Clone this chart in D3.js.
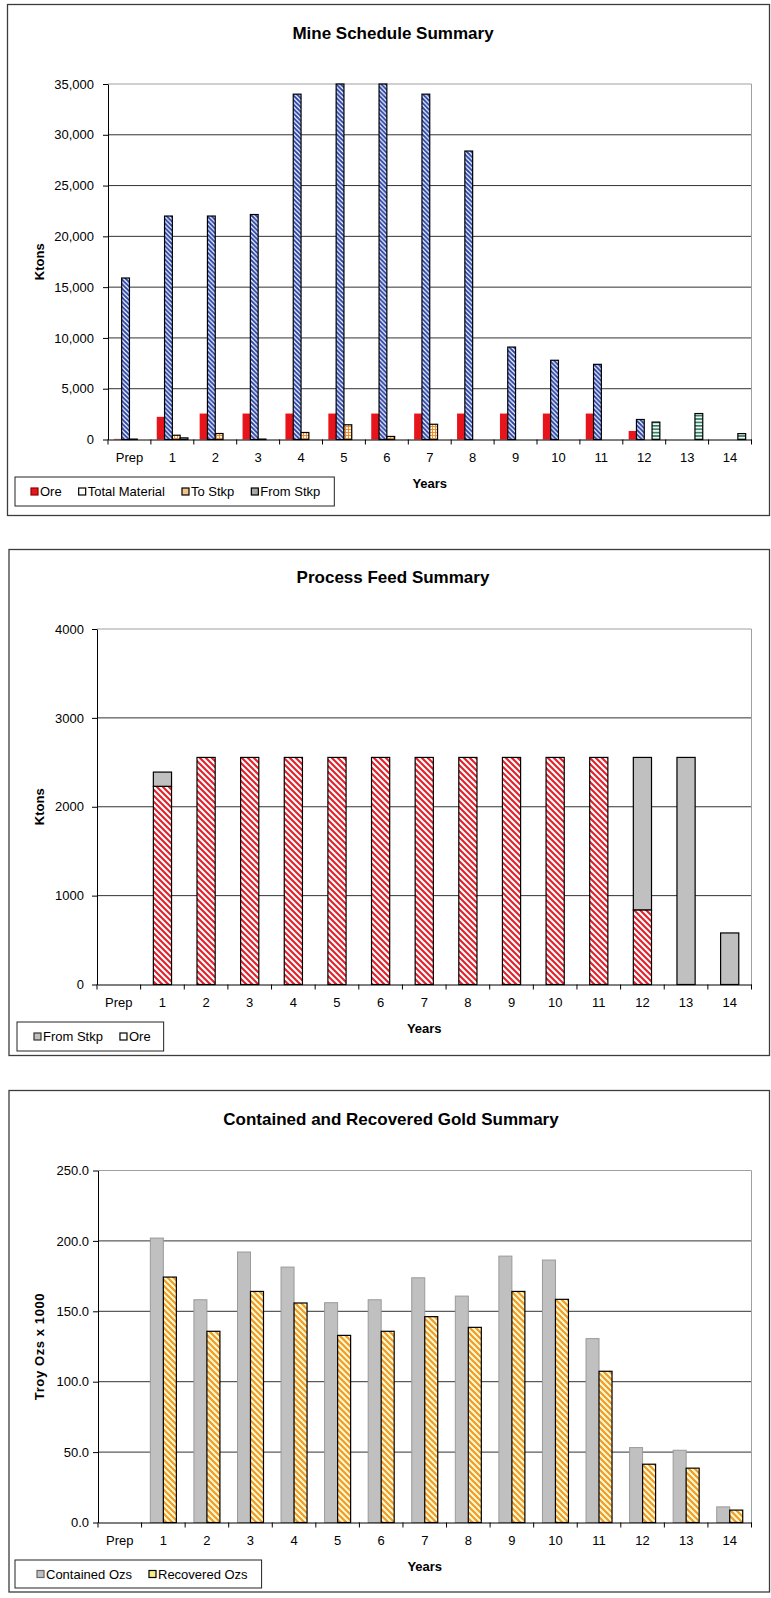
<!DOCTYPE html>
<html>
<head>
<meta charset="utf-8">
<script src="https://cdn.jsdelivr.net/npm/d3@7"></script>
<style>
  body { margin: 0; background: #fff; }
  svg { display: block; }
  text { font-family: "Liberation Sans", Arial, sans-serif; fill: #000; }
</style>
</head>
<body>
<svg id="chart" width="771" height="1598"></svg>
<script>
// ---- categories ----
const years = ["Prep", "1", "2", "3", "4", "5", "6", "7", "8", "9", "10", "11", "12", "13", "14"];

// ---- Mine Schedule Summary (Ktons) ----
const oreMined      = [60, 2230, 2555, 2555, 2555, 2555, 2555, 2555, 2555, 2555, 2555, 2555, 840, 0, 0];
const totalMaterial = [15900, 22000, 22000, 22150, 34000, 35000, 35000, 34000, 28400, 9100, 7800, 7400, 1970, 0, 0];
const toStockpile   = [40, 420, 590, 40, 690, 1450, 300, 1500, 0, 0, 0, 0, 0, 0, 0];
const fromStockpile = [0, 160, 0, 0, 0, 0, 0, 0, 0, 0, 0, 0, 1715, 2555, 580];
const mineTicks = [0, 5000, 10000, 15000, 20000, 25000, 30000, 35000];

// ---- Process Feed Summary (Ktons) ----
const feedOre       = [0, 2230, 2555, 2555, 2555, 2555, 2555, 2555, 2555, 2555, 2555, 2555, 840, 0, 0];
const feedFromStkp  = [0, 160, 0, 0, 0, 0, 0, 0, 0, 0, 0, 0, 1715, 2555, 580];
const feedTicks = [0, 1000, 2000, 3000, 4000];

// ---- Contained and Recovered Gold Summary (Troy Ozs x 1000) ----
const containedOzs = [0, 202.0, 158.2, 192.1, 181.4, 156.1, 158.2, 173.8, 160.8, 189.2, 186.4, 130.6, 53.2, 51.3, 11.1];
const recoveredOzs = [0, 174.3, 135.8, 164.1, 155.9, 132.9, 135.8, 146.2, 138.6, 164.1, 158.5, 107.4, 41.4, 38.6, 8.8];
const goldTicks = [0, 50, 100, 150, 200, 250];

const svg = d3.select("#chart");
const defs = svg.append("defs");

// hatch fills
function pattern(id, w, h, bg, draw) {
  const p = defs.append("pattern").attr("id", id)
    .attr("patternUnits", "userSpaceOnUse").attr("width", w).attr("height", h);
  p.append("rect").attr("width", w).attr("height", h).attr("fill", bg);
  draw(p);
}
function diagDown(p, s, color, sw) {
  p.append("path")
    .attr("d", `M-1,-1L${s + 1},${s + 1}M-1,${s - 1}L1,${s + 1}M${s - 1},-1L${s + 1},1`)
    .attr("stroke", color).attr("stroke-width", sw).attr("fill", "none");
}
pattern("blueHatch", 4.5, 4.5, "#ffffff", p => diagDown(p, 4.5, "#2a44a8", 2));
pattern("redHatch", 6, 6, "#ffffff", p => diagDown(p, 6, "#e4202a", 2.1));
pattern("goldHatch", 6, 6, "#fffbd0", p => diagDown(p, 6, "#f09a28", 2.2));
pattern("orangeGrid", 3, 3, "#fff1da", p => {
  p.append("path").attr("d", "M0,0.5H3M0.5,0V3").attr("stroke", "#e68f36").attr("stroke-width", 1).attr("fill", "none");
});
pattern("greenLines", 3.4, 3.4, "#eef7f1", p => {
  p.append("path").attr("d", "M0,0.8H3.4").attr("stroke", "#2f7a62").attr("stroke-width", 1.6).attr("fill", "none");
});

const font = "\"Liberation Sans\", Arial, sans-serif";

function drawPanel(o) {
  const g = svg.append("g");
  // chart area border
  g.append("rect")
    .attr("x", o.frame[0]).attr("y", o.frame[1])
    .attr("width", o.frame[2] - o.frame[0]).attr("height", o.frame[3] - o.frame[1])
    .attr("fill", "#fff").attr("stroke", "#3c3c3c").attr("stroke-width", 1.3);

  const x = d3.scaleBand().domain(years).range([o.left, o.right]);
  const y = d3.scaleLinear().domain([0, o.ticks[o.ticks.length - 1]]).range([o.bottom, o.top]);

  // gridlines
  g.append("g").selectAll("line")
    .data(o.ticks.slice(1, -1)).join("line")
    .attr("x1", o.left).attr("x2", o.right)
    .attr("y1", d => y(d)).attr("y2", d => y(d))
    .attr("stroke", "#333").attr("stroke-width", 1);
  // plot area border (top & right)
  g.append("path")
    .attr("d", `M${o.left},${y(o.ticks[o.ticks.length - 1])}H${o.right}V${o.bottom}`)
    .attr("stroke", "#a0a0a0").attr("stroke-width", 1).attr("fill", "none");

  // bars
  o.bars(g, x, y);

  // y axis
  const ya = g.append("g").attr("transform", `translate(${o.left},0)`)
    .call(d3.axisLeft(y).tickValues(o.ticks).tickFormat(o.fmt).tickSize(5).tickSizeOuter(0).tickPadding(o.ypad));
  ya.select(".domain").attr("stroke", "#000");
  ya.selectAll(".tick line").attr("stroke", "#000");
  ya.selectAll("text").attr("font-size", 13).attr("font-family", font).attr("fill", "#111");

  // x axis: labels at category centres, ticks between categories
  const xa = g.append("g").attr("transform", `translate(0,${o.bottom})`)
    .call(d3.axisBottom(x).tickSize(0).tickSizeOuter(0));
  xa.select(".domain").attr("stroke", "#000");
  xa.selectAll("text").attr("font-size", 13).attr("font-family", font).attr("fill", "#111")
    .attr("y", 22).attr("dy", 0);
  g.append("g").selectAll("line")
    .data(years.concat([null])).join("line")
    .attr("x1", d => d === null ? o.right : x(d)).attr("x2", d => d === null ? o.right : x(d))
    .attr("y1", o.bottom).attr("y2", o.bottom + 5)
    .attr("stroke", "#000");

  // titles
  g.append("text").attr("x", o.titleX).attr("y", o.titleY)
    .attr("text-anchor", "middle").attr("font-size", 17).attr("font-weight", "bold").text(o.title);
  g.append("text").attr("x", (o.left + o.right) / 2).attr("y", o.bottom + 48)
    .attr("text-anchor", "middle").attr("font-size", 13).attr("font-weight", "bold").text("Years");
  g.append("text")
    .attr("transform", `translate(${o.yTitleX},${(o.top + o.bottom) / 2}) rotate(-90)`)
    .attr("text-anchor", "middle").attr("font-size", 13).attr("font-weight", "bold")
    .attr("letter-spacing", o.yTitleSpacing || 0).text(o.yTitle);

  // legend
  const lg = g.append("g");
  const box = lg.append("rect").attr("x", o.legend.x).attr("y", o.legend.y)
    .attr("height", o.legend.h).attr("fill", "#fff").attr("stroke", "#222").attr("stroke-width", 1);
  const yc = o.legend.y + o.legend.h / 2;
  let cx = o.legend.x + o.legend.padL;
  o.legend.items.forEach((it, i) => {
    lg.append("rect").attr("x", cx).attr("y", yc - 3.5).attr("width", 7).attr("height", 7)
      .attr("fill", it.fill).attr("stroke", it.stroke).attr("stroke-width", 1.2);
    const t = lg.append("text").attr("x", cx + 9).attr("y", yc + 4.6)
      .attr("font-size", 13).attr("fill", "#111").text(it.label);
    cx += 9 + t.node().getComputedTextLength();
    if (i < o.legend.items.length - 1) cx += 17;
  });
  box.attr("width", cx + o.legend.padR - o.legend.x);
}

// grouped bars helper
function grouped(series, gap) {
  return (g, x, y) => {
    const n = series.length;
    const w = x.bandwidth() / (n + gap);
    const inner = d3.scaleBand().domain(d3.range(n)).range([0, n * w]);
    const off = (x.bandwidth() - n * w) / 2;
    series.forEach((s, si) => {
      g.append("g").selectAll("rect")
        .data(years.map((yr, i) => ({ yr, v: s.values[i] })).filter(d => d.v > 0))
        .join("rect")
        .attr("x", d => x(d.yr) + off + inner(si))
        .attr("width", inner.bandwidth())
        .attr("y", d => y(d.v))
        .attr("height", d => y(0) - y(d.v))
        .attr("fill", s.fill)
        .attr("stroke", s.stroke)
        .attr("stroke-width", s.sw || 1);
    });
  };
}

// ---- panel 1 ----
drawPanel({
  frame: [7.5, 4.5, 769.5, 515.5],
  left: 108, right: 751.5, top: 84, bottom: 439.5,
  ticks: mineTicks, fmt: d3.format(","), ypad: 9,
  title: "Mine Schedule Summary", titleX: 393, titleY: 38.5,
  yTitle: "Ktons", yTitleX: 44,
  bars: grouped([
    { values: oreMined, fill: "#e8141c", stroke: "none" },
    { values: totalMaterial, fill: "url(#blueHatch)", stroke: "#000", sw: 1.2 },
    { values: toStockpile, fill: "url(#orangeGrid)", stroke: "#000", sw: 1.2 },
    { values: fromStockpile, fill: "url(#greenLines)", stroke: "#000", sw: 1.2 }
  ], 1.5),
  legend: {
    x: 15, y: 477, h: 29, padL: 16, padR: 14,
    items: [
      { label: "Ore", fill: "#e8141c", stroke: "#8a0000" },
      { label: "Total Material", fill: "#fff", stroke: "#000" },
      { label: "To Stkp", fill: "#f3c48a", stroke: "#000" },
      { label: "From Stkp", fill: "#a8aaa8", stroke: "#000" }
    ]
  }
});

// ---- panel 2 (stacked) ----
drawPanel({
  frame: [9, 549.5, 769.5, 1055.5],
  left: 97, right: 751.5, top: 629, bottom: 984.5,
  ticks: feedTicks, fmt: d3.format("d"), ypad: 8,
  title: "Process Feed Summary", titleX: 393, titleY: 583,
  yTitle: "Ktons", yTitleX: 44,
  bars: (g, x, y) => {
    const w = x.bandwidth() / 2.4;
    const off = (x.bandwidth() - w) / 2;
    const rows = years.map((yr, i) => ({ yr, ore: feedOre[i], stk: feedFromStkp[i] }));
    g.append("g").selectAll("rect").data(rows.filter(d => d.ore > 0)).join("rect")
      .attr("x", d => x(d.yr) + off).attr("width", w)
      .attr("y", d => y(d.ore)).attr("height", d => y(0) - y(d.ore))
      .attr("fill", "url(#redHatch)").attr("stroke", "#000").attr("stroke-width", 1.2);
    g.append("g").selectAll("rect").data(rows.filter(d => d.stk > 0)).join("rect")
      .attr("x", d => x(d.yr) + off).attr("width", w)
      .attr("y", d => y(d.ore + d.stk)).attr("height", d => y(d.ore) - y(d.ore + d.stk))
      .attr("fill", "#c0c0c0").attr("stroke", "#000").attr("stroke-width", 1.2);
  },
  legend: {
    x: 17, y: 1022, h: 29, padL: 17, padR: 13,
    items: [
      { label: "From Stkp", fill: "#c0c0c0", stroke: "#333" },
      { label: "Ore", fill: "#fff", stroke: "#000" }
    ]
  }
});

// ---- panel 3 ----
drawPanel({
  frame: [9, 1090.5, 769.5, 1592],
  left: 98, right: 751.5, top: 1170.5, bottom: 1522.5,
  ticks: goldTicks, fmt: d3.format(".1f"), ypad: 4,
  title: "Contained and Recovered Gold Summary", titleX: 391, titleY: 1125,
  yTitle: "Troy Ozs x 1000", yTitleX: 44, yTitleSpacing: 0.6,
  bars: grouped([
    { values: containedOzs, fill: "#c0c0c0", stroke: "#9a9a9a" },
    { values: recoveredOzs, fill: "url(#goldHatch)", stroke: "#000", sw: 1.2 }
  ], 1.35),
  legend: {
    x: 15, y: 1560, h: 28, padL: 22, padR: 14,
    items: [
      { label: "Contained Ozs", fill: "#c0c0c0", stroke: "#666" },
      { label: "Recovered Ozs", fill: "#f6ee80", stroke: "#000" }
    ]
  }
});
</script>
</body>
</html>
